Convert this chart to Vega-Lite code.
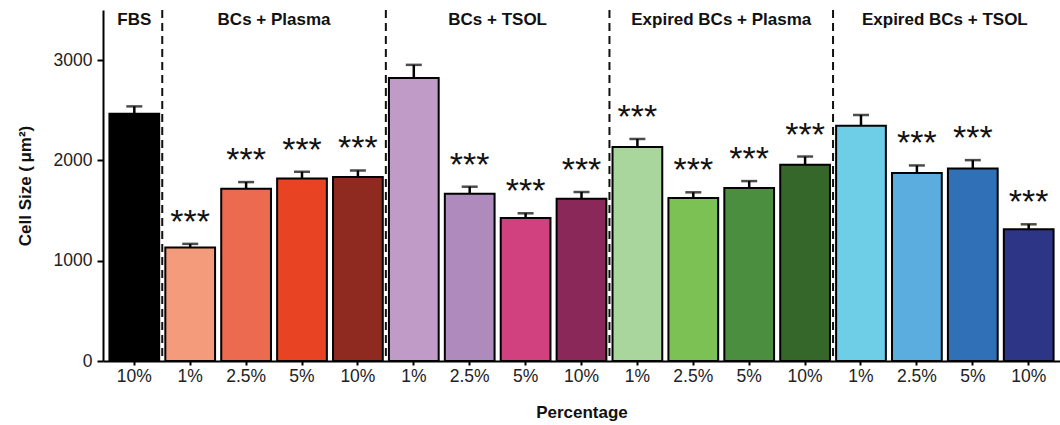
{
  "$schema": "https://vega.github.io/schema/vega-lite/v6.json",
  "autosize": {"type": "none"},
  "padding": {"left": 103, "top": 10, "right": 0, "bottom": 64},
  "width": 957,
  "height": 351,
  "background": "white",
  "config": {
    "view": {"stroke": null},
    "font": "Liberation Sans",
    "axis": {"grid": false, "domainColor": "black", "domainWidth": 2, "tickColor": "black", "tickWidth": 2, "labelColor": "#222222", "labelFont": "Liberation Sans", "titleFont": "Liberation Sans", "titleColor": "#111111", "titleFontWeight": "bold"}
  },
  "datasets": {
    "bars": [
      {"key": "FBS|10%", "group": "FBS", "pct": "10%", "value": 2466, "upper": 2539, "sig": ""},
      {"key": "BCs + Plasma|1%", "group": "BCs + Plasma", "pct": "1%", "value": 1132, "upper": 1168, "sig": "***"},
      {"key": "BCs + Plasma|2.5%", "group": "BCs + Plasma", "pct": "2.5%", "value": 1718, "upper": 1784, "sig": "***"},
      {"key": "BCs + Plasma|5%", "group": "BCs + Plasma", "pct": "5%", "value": 1820, "upper": 1887, "sig": "***"},
      {"key": "BCs + Plasma|10%", "group": "BCs + Plasma", "pct": "10%", "value": 1834, "upper": 1900, "sig": "***"},
      {"key": "BCs + TSOL|1%", "group": "BCs + TSOL", "pct": "1%", "value": 2823, "upper": 2953, "sig": ""},
      {"key": "BCs + TSOL|2.5%", "group": "BCs + TSOL", "pct": "2.5%", "value": 1668, "upper": 1738, "sig": "***"},
      {"key": "BCs + TSOL|5%", "group": "BCs + TSOL", "pct": "5%", "value": 1427, "upper": 1473, "sig": "***"},
      {"key": "BCs + TSOL|10%", "group": "BCs + TSOL", "pct": "10%", "value": 1619, "upper": 1685, "sig": "***"},
      {"key": "Expired BCs + Plasma|1%", "group": "Expired BCs + Plasma", "pct": "1%", "value": 2135, "upper": 2214, "sig": "***"},
      {"key": "Expired BCs + Plasma|2.5%", "group": "Expired BCs + Plasma", "pct": "2.5%", "value": 1626, "upper": 1682, "sig": "***"},
      {"key": "Expired BCs + Plasma|5%", "group": "Expired BCs + Plasma", "pct": "5%", "value": 1724, "upper": 1794, "sig": "***"},
      {"key": "Expired BCs + Plasma|10%", "group": "Expired BCs + Plasma", "pct": "10%", "value": 1956, "upper": 2039, "sig": "***"},
      {"key": "Expired BCs + TSOL|1%", "group": "Expired BCs + TSOL", "pct": "1%", "value": 2347, "upper": 2453, "sig": ""},
      {"key": "Expired BCs + TSOL|2.5%", "group": "Expired BCs + TSOL", "pct": "2.5%", "value": 1874, "upper": 1950, "sig": "***"},
      {"key": "Expired BCs + TSOL|5%", "group": "Expired BCs + TSOL", "pct": "5%", "value": 1920, "upper": 2003, "sig": "***"},
      {"key": "Expired BCs + TSOL|10%", "group": "Expired BCs + TSOL", "pct": "10%", "value": 1314, "upper": 1363, "sig": "***"}
    ],
    "groups": [
      {"label": "FBS", "key": "FBS|10%", "kind": "single"},
      {"label": "BCs + Plasma", "key": "BCs + Plasma|2.5%", "kind": "multi"},
      {"label": "BCs + TSOL", "key": "BCs + TSOL|2.5%", "kind": "multi"},
      {"label": "Expired BCs + Plasma", "key": "Expired BCs + Plasma|2.5%", "kind": "multi"},
      {"label": "Expired BCs + TSOL", "key": "Expired BCs + TSOL|2.5%", "kind": "multi"}
    ],
    "dividers": [
      {"key": "BCs + Plasma|1%"},
      {"key": "BCs + TSOL|1%"},
      {"key": "Expired BCs + Plasma|1%"},
      {"key": "Expired BCs + TSOL|1%"}
    ]
  },
  "encoding": {
    "x": {
      "field": "key", "type": "nominal",
      "scale": {
        "domain": ["FBS|10%", "BCs + Plasma|1%", "BCs + Plasma|2.5%", "BCs + Plasma|5%", "BCs + Plasma|10%", "BCs + TSOL|1%", "BCs + TSOL|2.5%", "BCs + TSOL|5%", "BCs + TSOL|10%", "Expired BCs + Plasma|1%", "Expired BCs + Plasma|2.5%", "Expired BCs + Plasma|5%", "Expired BCs + Plasma|10%", "Expired BCs + TSOL|1%", "Expired BCs + TSOL|2.5%", "Expired BCs + TSOL|5%", "Expired BCs + TSOL|10%"],
        "paddingInner": 0, "paddingOuter": 0.06
      },
      "axis": {"title": "Percentage", "labelExpr": "split(datum.label, '|')[1]", "labelAngle": 0, "labelFontSize": 17.5, "titleFontSize": 17, "tickSize": 4, "labelPadding": 2, "titlePadding": 20}
    }
  },
  "layer": [
    {
      "data": {"name": "bars"},
      "mark": {"type": "rule", "color": "black", "strokeWidth": 2.5},
      "encoding": {
        "y": {"field": "value", "type": "quantitative", "scale": {"domain": [0, 3500]}, "axis": {"title": "Cell Size (\u2009μm²)", "format": "d", "values": [0, 1000, 2000, 3000], "labelFontSize": 17.5, "titleFontSize": 17, "tickSize": 6, "labelPadding": 5, "titlePadding": 19}},
        "y2": {"field": "upper"}
      }
    },
    {
      "data": {"name": "bars"},
      "mark": {"type": "tick", "color": "black", "thickness": 2.5, "size": 16, "orient": "horizontal"},
      "encoding": {
        "y": {"field": "upper", "type": "quantitative"}
      }
    },
    {
      "data": {"name": "bars"},
      "mark": {"type": "bar", "stroke": "black", "strokeWidth": 2, "width": {"band": 0.89}},
      "encoding": {
        "y": {"field": "value", "type": "quantitative"},
        "color": {
          "field": "key", "type": "nominal", "legend": null,
          "scale": {
            "domain": ["FBS|10%", "BCs + Plasma|1%", "BCs + Plasma|2.5%", "BCs + Plasma|5%", "BCs + Plasma|10%", "BCs + TSOL|1%", "BCs + TSOL|2.5%", "BCs + TSOL|5%", "BCs + TSOL|10%", "Expired BCs + Plasma|1%", "Expired BCs + Plasma|2.5%", "Expired BCs + Plasma|5%", "Expired BCs + Plasma|10%", "Expired BCs + TSOL|1%", "Expired BCs + TSOL|2.5%", "Expired BCs + TSOL|5%", "Expired BCs + TSOL|10%"],
            "range": ["#000000", "#F49B7B", "#EC6A50", "#E84424", "#8E2A1F", "#C19BC8", "#AE8ABD", "#D1417F", "#8A2859", "#A8D69C", "#7BC154", "#4B8E40", "#36672A", "#6ECDE7", "#5BADDF", "#3070B7", "#2C3586"]
          }
        }
      }
    },
    {
      "data": {"name": "bars"},
      "transform": [{"filter": "datum.sig != ''"}],
      "mark": {"type": "text", "fontSize": 34, "baseline": "alphabetic", "dy": -11, "color": "#111111", "font": "Liberation Sans"},
      "encoding": {
        "y": {"field": "upper", "type": "quantitative"},
        "text": {"field": "sig"}
      }
    },
    {
      "data": {"name": "dividers"},
      "mark": {"type": "rule", "color": "#111111", "strokeWidth": 2, "strokeDash": [8, 5]},
      "encoding": {
        "x": {"field": "key", "type": "nominal", "bandPosition": 0}
      }
    },
    {
      "data": {"name": "groups"},
      "transform": [{"filter": "datum.kind == 'single'"}],
      "mark": {"type": "text", "fontSize": 17, "fontWeight": "bold", "baseline": "middle", "color": "#111111"},
      "encoding": {
        "x": {"field": "key", "type": "nominal", "bandPosition": 0.5},
        "y": {"datum": 3400, "type": "quantitative"},
        "text": {"field": "label"}
      }
    },
    {
      "data": {"name": "groups"},
      "transform": [{"filter": "datum.kind == 'multi'"}],
      "mark": {"type": "text", "fontSize": 17, "fontWeight": "bold", "baseline": "middle", "color": "#111111"},
      "encoding": {
        "x": {"field": "key", "type": "nominal", "bandPosition": 1},
        "y": {"datum": 3400, "type": "quantitative"},
        "text": {"field": "label"}
      }
    }
  ]
}
